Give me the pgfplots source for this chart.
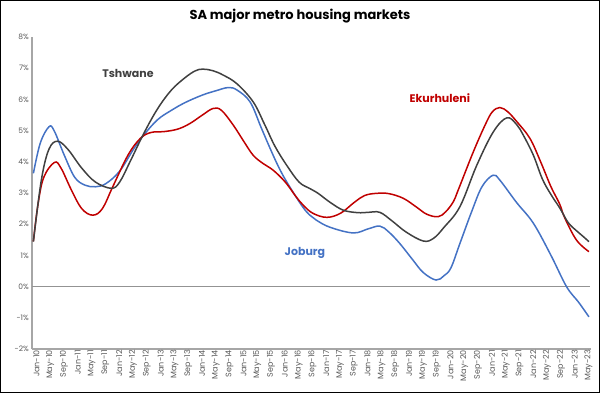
\documentclass[border=0pt]{standalone}
\usepackage{pgfplots}
\pgfplotsset{compat=1.18}
\usepackage{fontspec}
\setmainfont{Poppins}
\definecolor{jblue}{HTML}{4472C4}
\definecolor{ered}{HTML}{C00000}
\definecolor{tblack}{HTML}{404040}
\definecolor{tickgray}{HTML}{595959}
\definecolor{axgray}{HTML}{A6A6A6}
\begin{document}
\begin{tikzpicture}
\path[use as bounding box] (0pt,0pt) rectangle (602pt,394pt);
\draw[line width=1.2pt] (0.6pt,1.6pt) rectangle (599.4pt,393.4pt);
\node[font=\bfseries\fontsize{13}{15}\selectfont, text=black] at (300pt,378pt) {SA major metro housing markets};
\begin{axis}[
  at={(32pt,45pt)}, anchor=south west,
  scale only axis, width=559pt, height=312pt,
  xmin=-0.4, xmax=161.6, ymin=-2, ymax=8,
  axis lines=left, axis line style={-, draw=axgray, line width=1.3pt},
  major tick length=0pt,
  ytick={-2,-1,0,1,2,3,4,5,6,7,8},
  yticklabels={-2\%,-1\%,0\%,1\%,2\%,3\%,4\%,5\%,6\%,7\%,8\%},
  yticklabel style={font=\fontsize{7.5}{8}\selectfont, text=tickgray, inner sep=1pt, xshift=-2pt},
  xtick={0,4,...,160},
  xticklabels={Jan-10,May-10,Sep-10,Jan-11,May-11,Sep-11,Jan-12,May-12,Sep-12,Jan-13,May-13,Sep-13,Jan-14,May-14,Sep-14,Jan-15,May-15,Sep-15,Jan-16,May-16,Sep-16,Jan-17,May-17,Sep-17,Jan-18,May-18,Sep-18,Jan-19,May-19,Sep-19,Jan-20,May-20,Sep-20,Jan-21,May-21,Sep-21,Jan-22,May-22,Sep-22,Jan-23,May-23},
  xticklabel style={font=\fontsize{8}{9}\selectfont, text=tickgray, rotate=90, anchor=east, inner sep=1pt, yshift=-3pt},
  clip=false,
]
\addplot[draw=gray!85, line width=1.2pt, forget plot] coordinates {(-0.4,0) (161.3,0)};
% Joburg
\addplot[jblue, line width=1.5pt, smooth, tension=0.6] coordinates {
(0,3.63) (2,4.6) (4.5,5.12) (6,5.0) (9,4.2) (12,3.5) (15,3.25) (18,3.2) (21,3.3) (25,3.7) (29,4.4) (32,4.86) (36,5.35) (40,5.65) (44,5.9) (49,6.14) (53,6.28) (56.5,6.38) (59,6.3) (62.8,5.92) (66,5.1) (68.6,4.43) (71,3.85) (73.4,3.36) (77.7,2.61) (80,2.3) (82,2.13) (86,1.9) (92.7,1.72) (97,1.85) (100.4,1.94) (103,1.75) (106.2,1.38) (110,0.85) (113,0.45) (116.7,0.21) (119,0.35) (121,0.6) (123.6,1.38) (127,2.4) (130,3.2) (133.2,3.57) (135.2,3.41) (140,2.7) (144.9,2.03) (150,1.0) (154.5,0.0) (158,-0.5) (161,-0.97)};
% Ekurhuleni
\addplot[ered, line width=1.5pt, smooth, tension=0.6] coordinates {
(0,1.45) (1.3,2.61) (3,3.5) (6.1,3.98) (8,3.8) (11,3.1) (14,2.5) (17.2,2.29) (20,2.5) (23,3.2) (27.4,4.21) (31,4.75) (34.1,4.94) (38,4.97) (41.9,5.05) (45.4,5.23) (49,5.5) (52.1,5.71) (54.5,5.65) (57.9,5.18) (61,4.65) (63.7,4.21) (66.5,3.95) (69.5,3.73) (73,3.35) (76,2.9) (78.2,2.61) (81,2.35) (85,2.22) (89,2.35) (93,2.7) (96,2.92) (99.5,2.99) (103,2.98) (107.2,2.83) (111,2.55) (114,2.32) (117.3,2.24) (119.5,2.4) (121.7,2.72) (123.1,3.09) (127.5,4.32) (131,5.2) (133,5.6) (135.2,5.74) (137.5,5.6) (140,5.3) (143.9,4.75) (147,4.0) (150,3.2) (152.5,2.65) (154,2.2) (157.4,1.49) (161,1.12)};
% Tshwane
\addplot[tblack, line width=1.5pt, smooth, tension=0.6] coordinates {
(0,1.44) (2.3,3.41) (4.5,4.4) (7,4.66) (10,4.4) (14,3.8) (18,3.35) (22.6,3.15) (25,3.35) (28,4.0) (32,4.91) (36,5.7) (40,6.3) (44,6.7) (47,6.92) (49.2,6.97) (52,6.92) (55,6.78) (59,6.5) (63.7,5.92) (67,5.2) (70,4.5) (73.4,3.89) (77,3.35) (80,3.15) (82.5,2.99) (86,2.7) (89.8,2.45) (94,2.37) (97,2.38) (100.4,2.38) (104,2.1) (108,1.75) (113,1.46) (116,1.55) (119,1.9) (123.6,2.56) (128.5,3.89) (133.3,4.96) (137.2,5.41) (140,5.2) (142,4.85) (144.9,4.21) (147.5,3.45) (150,2.95) (152.6,2.51) (155,2.05) (157.5,1.78) (159.4,1.6) (161,1.44)};
\node[font=\bfseries\fontsize{11}{13}\selectfont, text=tblack] at (axis cs:27.4,6.84) {Tshwane};
\node[font=\bfseries\fontsize{11}{13}\selectfont, text=ered] at (axis cs:117.8,6.04) {Ekurhuleni};
\node[font=\bfseries\fontsize{11}{13}\selectfont, text=jblue] at (axis cs:78.7,1.07) {Joburg};
\end{axis}
\end{tikzpicture}
\end{document}
